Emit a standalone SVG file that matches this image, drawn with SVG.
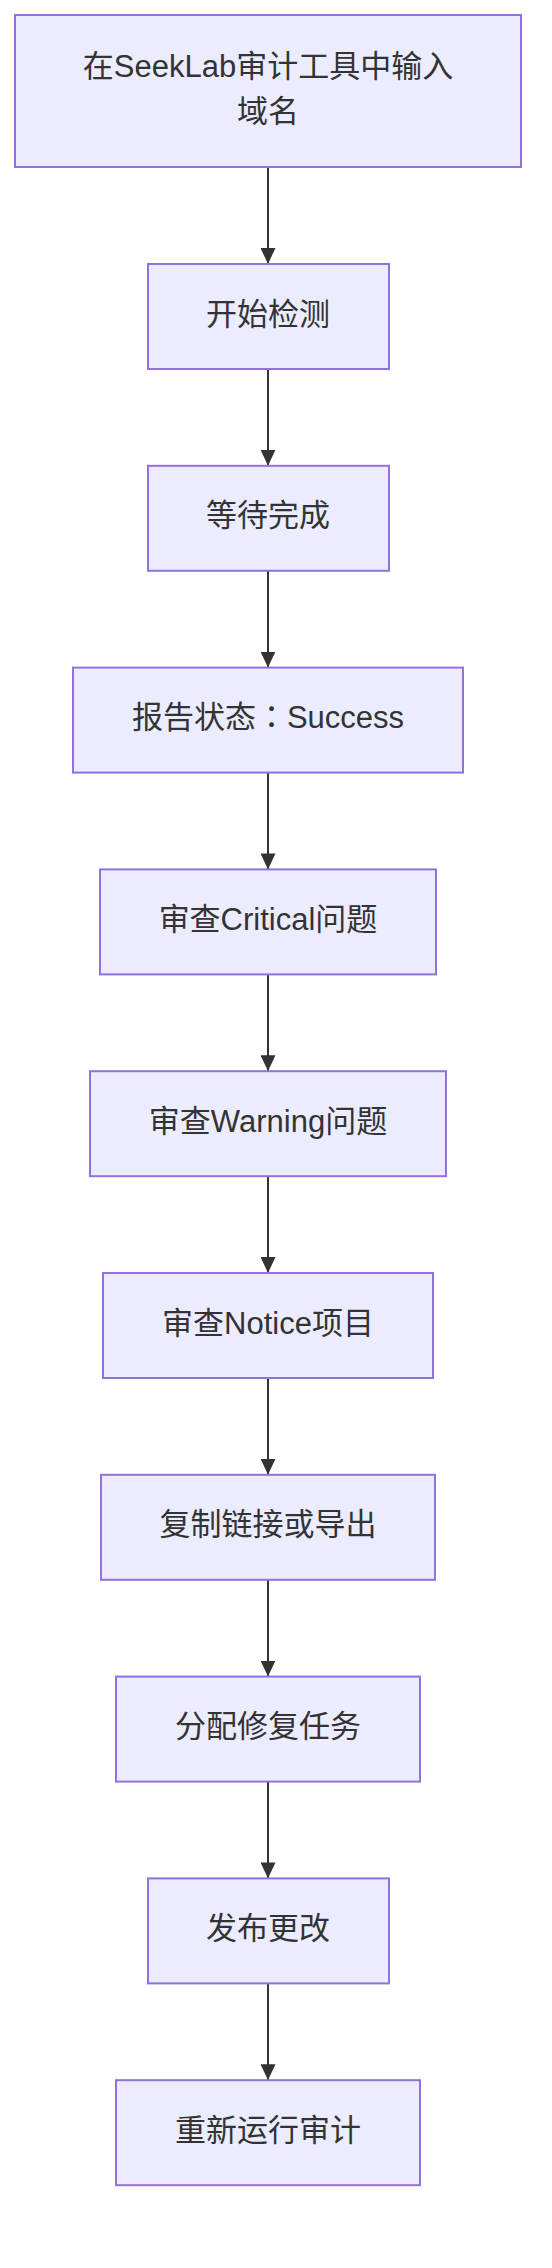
<svg xmlns="http://www.w3.org/2000/svg" width="552" height="2268" viewBox="0 0 552 2268">
<style>
.node rect{fill:#ECECFF;stroke:#9370DB;stroke-width:2}
.node text{font-family:"Liberation Sans","Noto Sans CJK SC",sans-serif;font-size:31px;fill:#333333;text-anchor:middle}
.node .tc{font-family:"Noto Sans CJK TC",sans-serif}
.edge{stroke:#333333;stroke-width:2;fill:none}
</style>
<defs>
<marker id="arrow" viewBox="0 0 16 15" refX="16" refY="7.5" markerWidth="16" markerHeight="15" markerUnits="userSpaceOnUse" orient="auto">
<path d="M0,0 L16,7.5 L0,15 z" fill="#333333"/>
</marker>
</defs>
<rect width="552" height="2268" fill="#ffffff"/>
<g id="edges">
<line class="edge" x1="268" y1="167" x2="268" y2="264" marker-end="url(#arrow)"/>
<line class="edge" x1="268" y1="369" x2="268" y2="465.8" marker-end="url(#arrow)"/>
<line class="edge" x1="268" y1="570.8" x2="268" y2="667.6" marker-end="url(#arrow)"/>
<line class="edge" x1="268" y1="772.6" x2="268" y2="869.4" marker-end="url(#arrow)"/>
<line class="edge" x1="268" y1="974.4" x2="268" y2="1071.2" marker-end="url(#arrow)"/>
<line class="edge" x1="268" y1="1176.2" x2="268" y2="1273" marker-end="url(#arrow)"/>
<line class="edge" x1="268" y1="1378" x2="268" y2="1474.8" marker-end="url(#arrow)"/>
<line class="edge" x1="268" y1="1579.8" x2="268" y2="1676.6" marker-end="url(#arrow)"/>
<line class="edge" x1="268" y1="1781.6" x2="268" y2="1878.4" marker-end="url(#arrow)"/>
<line class="edge" x1="268" y1="1983.4" x2="268" y2="2080.2" marker-end="url(#arrow)"/>
</g>
<g id="n1" class="node"><rect x="15" y="15" width="506" height="152"/><text x="268" y="77">在SeekLab审计工具中输入</text><text x="268" y="122">域名</text></g>
<g id="n2" class="node"><rect x="148" y="264" width="241" height="105"/><text x="268" y="324.5">开始检测</text></g>
<g id="n3" class="node"><rect x="148" y="465.8" width="241" height="105"/><text x="268" y="526.3">等待完成</text></g>
<g id="n4" class="node"><rect x="73" y="667.6" width="390" height="105"/><text x="268" y="728.1">报告状态<tspan class="tc">：</tspan>Success</text></g>
<g id="n5" class="node"><rect x="100" y="869.4" width="336" height="105"/><text x="268" y="929.9">审查Critical问题</text></g>
<g id="n6" class="node"><rect x="90" y="1071.2" width="356" height="105"/><text x="268" y="1131.7">审查Warning问题</text></g>
<g id="n7" class="node"><rect x="103" y="1273" width="330" height="105"/><text x="268" y="1333.5">审查Notice项目</text></g>
<g id="n8" class="node"><rect x="101" y="1474.8" width="334" height="105"/><text x="268" y="1535.3">复制链接或导出</text></g>
<g id="n9" class="node"><rect x="116" y="1676.6" width="304" height="105"/><text x="268" y="1737.1">分配修复任务</text></g>
<g id="n10" class="node"><rect x="148" y="1878.4" width="241" height="105"/><text x="268" y="1938.9">发布更改</text></g>
<g id="n11" class="node"><rect x="116" y="2080.2" width="304" height="105"/><text x="268" y="2140.7">重新运行审计</text></g>
</svg>
